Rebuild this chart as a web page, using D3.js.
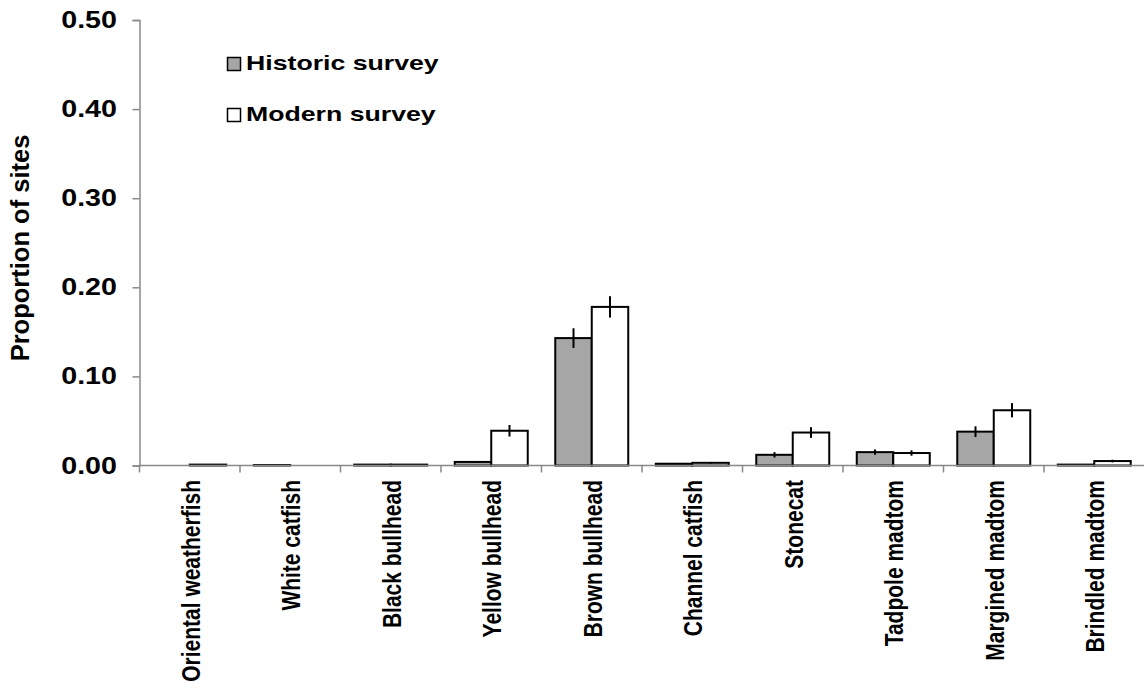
<!DOCTYPE html>
<html>
<head>
<meta charset="utf-8">
<script src="https://cdn.jsdelivr.net/npm/d3@7"></script>
<style>
    body { margin: 0; background: #fff; }
    svg text { font-family: "Liberation Sans", Arial, sans-serif; font-weight: bold; fill: #000; }
</style>
</head>
<body>
<svg id="chart"></svg>
<script>
// Species on the x axis
const species = ["Oriental weatherfish", "White catfish", "Black bullhead", "Yellow bullhead", "Brown bullhead",
    "Channel catfish", "Stonecat", "Tadpole madtom", "Margined madtom", "Brindled madtom"];

// Proportion of sites
const historic = [0, 0.0005, 0.001, 0.004, 0.143, 0.002, 0.012, 0.015, 0.038, 0.001];
const modern = [0.001, 0, 0.001, 0.039, 0.178, 0.003, 0.037, 0.014, 0.062, 0.005];

// Error bar half-lengths
const historicErr = [0, 0, 0, 0.001, 0.011, 0.0006, 0.003, 0.003, 0.006, 0];
const modernErr = [0, 0, 0, 0.0065, 0.012, 0.001, 0.006, 0.003, 0.008, 0.0015];

const yTicks = [0, 0.1, 0.2, 0.3, 0.4, 0.5];
const seriesNames = ["Historic survey", "Modern survey"];
const seriesFill = ["#a6a6a6", "#ffffff"];

document.addEventListener("DOMContentLoaded", function () {
    const width = 1144, height = 688;
    const svg = d3.select("#chart").attr("width", width).attr("height", height);

    // the original text looks a bit stretched sideways
    const stretch = 1.22;

    // Build rows for the bars
    const rows = [];
    species.forEach((s, i) => {
        rows.push({ species: s, series: 0, value: historic[i], err: historicErr[i] });
        rows.push({ species: s, series: 1, value: modern[i], err: modernErr[i] });
    });

    // Scales
    const xScale = d3.scaleBand().domain(species).range([139.5, 1144.5]);
    const xSub = d3.scaleBand().domain([0, 1]).range([0, xScale.bandwidth()]).paddingOuter(0.377);
    const yScale = d3.scaleLinear().domain([0, 0.5]).range([465.5, 20]);

    const axisColor = "#898989";

    // Y axis
    const yAxis = svg.append("g")
        .attr("transform", "translate(139.5,0)")
        .call(d3.axisLeft(yScale).tickValues(yTicks).tickFormat(d3.format(".2f")).tickSize(7));
    yAxis.select(".domain").attr("stroke", axisColor).attr("stroke-width", 1.5);
    yAxis.selectAll(".tick line").attr("stroke", axisColor).attr("stroke-width", 1.5);
    yAxis.selectAll(".tick text")
        .attr("x", 0)
        .attr("transform", `translate(-22.5,0) scale(${stretch},1)`)
        .attr("font-size", 23.5)
        .attr("fill", "#000");

    // Bars
    const bars = svg.append("g");
    bars.selectAll("rect")
        .data(rows.filter(d => d.value > 0))
        .enter()
        .append("rect")
        .attr("x", d => xScale(d.species) + xSub(d.series))
        .attr("y", d => yScale(d.value))
        .attr("width", xSub.bandwidth())
        .attr("height", d => yScale(0) - yScale(d.value))
        .attr("fill", d => seriesFill[d.series])
        .attr("stroke", "#000")
        .attr("stroke-width", 2);

    // Error bars, no caps
    bars.selectAll("line.err")
        .data(rows.filter(d => d.err > 0))
        .enter()
        .append("line")
        .attr("class", "err")
        .attr("x1", d => xScale(d.species) + xSub(d.series) + xSub.bandwidth() / 2)
        .attr("x2", d => xScale(d.species) + xSub(d.series) + xSub.bandwidth() / 2)
        .attr("y1", d => yScale(d.value + d.err))
        .attr("y2", d => yScale(d.value - d.err))
        .attr("stroke", "#000")
        .attr("stroke-width", 2);

    // X axis: baseline and ticks between categories
    const xg = svg.append("g");
    xg.append("line")
        .attr("x1", 139.5).attr("x2", 1144.5)
        .attr("y1", yScale(0)).attr("y2", yScale(0))
        .attr("stroke", axisColor).attr("stroke-width", 1.5);
    xg.selectAll("line.tick")
        .data(species)
        .enter()
        .append("line")
        .attr("class", "tick")
        .attr("x1", d => xScale(d)).attr("x2", d => xScale(d))
        .attr("y1", yScale(0)).attr("y2", yScale(0) + 7)
        .attr("stroke", axisColor).attr("stroke-width", 1.5);

    // Rotated category labels
    xg.selectAll("text")
        .data(species)
        .enter()
        .append("text")
        .attr("transform", d => `translate(${xScale(d) + xScale.bandwidth() / 2 + 10},480) scale(${stretch},1) rotate(-90)`)
        .attr("text-anchor", "end")
        .attr("font-size", 21)
        .text(d => d);

    // Y axis title
    svg.append("text")
        .attr("transform", "translate(29,248) rotate(-90)")
        .attr("text-anchor", "middle")
        .attr("font-size", 25.5)
        .text("Proportion of sites");

    // Legend
    const legend = svg.append("g");
    seriesNames.forEach((name, i) => {
        const y0 = 57 + i * 51;
        legend.append("rect")
            .attr("x", 227.5).attr("y", y0 + 0.5)
            .attr("width", 13).attr("height", 13)
            .attr("fill", seriesFill[i])
            .attr("stroke", "#000").attr("stroke-width", 1.5);
        legend.append("text")
            .attr("transform", `translate(246,${y0 + 13}) scale(1.27,1)`)
            .attr("font-size", 21)
            .text(name);
    });
});
</script>
</body>
</html>
